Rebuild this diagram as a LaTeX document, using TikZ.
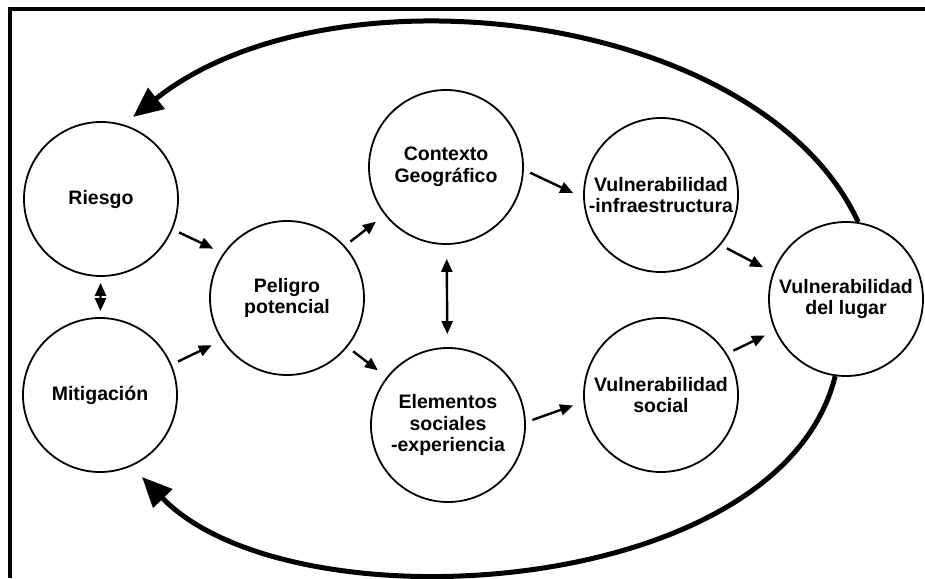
\documentclass[tikz,border=0pt]{standalone}
\usepackage{fontspec}
\setmainfont{Liberation Sans}
\usetikzlibrary{arrows.meta}
\begin{document}
\begin{tikzpicture}[x=1pt, y=-1pt, >={Triangle[length=13pt,width=11pt]},
  main/.style = {draw, circle, line width=1.8pt, minimum size=154pt, inner sep=0pt, align=center, font=\fontsize{19.5}{21.5}\selectfont\bfseries},
  link/.style = {line width=2.4pt, shorten <=7pt, shorten >=11pt},
  back/.style = {line width=5pt, -{Triangle[length=30pt,width=26pt]}}]
\useasboundingbox (0,0) rectangle (925,578);
\draw[line width=4pt] (10,578) -- (10,9) -- (925,9);
\node[main] (1) at (101,199) {Riesgo};
\node[main] (2) at (100,395) {Mitigación};
\node[main] (3) at (287,298) {Peligro\\potencial};
\node[main] (4) at (446,167) {Contexto\\Geográfico};
\node[main] (5) at (448,425) {Elementos\\sociales\\-experiencia};
\node[main] (6) at (661,195) {Vulnerabilidad\\-infraestructura};
\node[main] (7) at (661,395) {Vulnerabilidad\\social};
\node[main] (8) at (846,299) {Vulnerabilidad\\del lugar};
\draw[->, link] (1.-23) -- (3.145);
\draw[->, link] (2.23) -- (3.-147);
\draw[<->, line width=2.4pt, shorten <=6pt, shorten >=6pt] (1) -- (2);
\draw[->, link] (3.42) -- (4.-142);
\draw[->, link] (3.-39) -- (5.142);
\draw[<->, line width=2.4pt, shorten <=14pt, shorten >=13pt] (4) -- (5);
\draw[->, link] (4.-2) -- (6.-178);
\draw[->, link] (5.2) -- (7.-175);
\draw[->, link] (6.-40) -- (8.160);
\draw[->, link] (7.32) -- (8.-156);
\draw[back] (8.81) .. controls (760,10) and (330,-40) .. (133,117);
\draw[back] (8.-98) .. controls (780,600) and (290,630) .. (142,477);
\end{tikzpicture}
\end{document}
